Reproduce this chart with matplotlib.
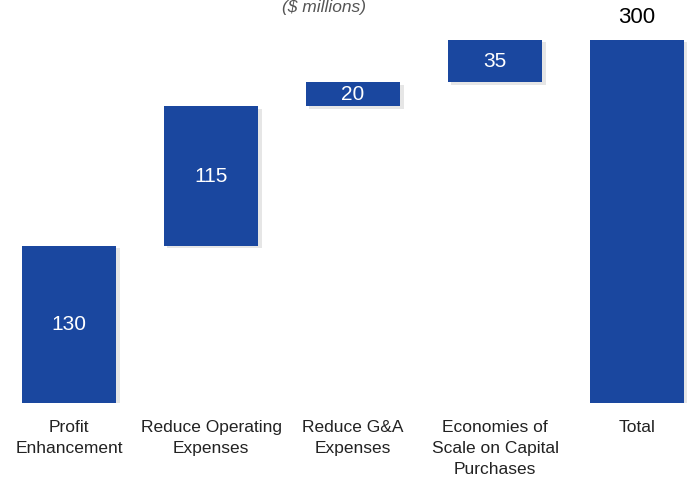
import matplotlib
matplotlib.use("Agg")
import matplotlib.pyplot as plt

categories = ["Profit\nEnhancement", "Reduce Operating\nExpenses", "Reduce G&A\nExpenses",
              "Economies of\nScale on Capital\nPurchases", "Total"]
values = [130, 115, 20, 35]
total = sum(values)
subtitle = "($ millions)"

plt.rcParams['font.family'] = ["Liberation Sans", "DejaVu Sans"]

fig = plt.figure(figsize=(6.87, 4.83), dpi=100)
ax = fig.add_axes([0, 80/483, 1, 403/483])
ax.set_xlim(-0.486, 4.352)
ax.set_ylim(0, 333)
ax.axis('off')

color = "#1a479f"
width = 0.665
bottoms = []
acc = 0
for v in values:
    bottoms.append(acc)
    acc += v
heights = values + [total]
bottoms = bottoms + [0]
xs = list(range(len(heights)))

# subtle shadow
for x, b, h in zip(xs, bottoms, heights):
    ax.bar(x + 0.025, h, width, bottom=b - 2.0, color="#b8b8b8", alpha=0.35, zorder=1)
ax.bar(xs, heights, width, bottom=bottoms, color=color, zorder=2)

for x, b, h in zip(xs[:-1], bottoms[:-1], heights[:-1]):
    ax.text(x, b + h / 2, str(h), ha='center', va='center', color='white',
            fontsize=15, zorder=3)
ax.text(xs[-1], total + 10, str(total), ha='center', va='bottom', color='black',
        fontsize=16)

for x, lab in zip(xs, categories):
    fig.text((x + 0.486) / (4.352 + 0.486), 1 - 420/483, lab, ha='center', va='top',
             fontsize=12.5, color='#222222', linespacing=1.5)

fig.text(324/687, 1 - 0/483, subtitle, ha='center', va='top', style='italic',
         fontsize=12.5, color='#555555')

fig.savefig("out.png", dpi=100, facecolor='white')
